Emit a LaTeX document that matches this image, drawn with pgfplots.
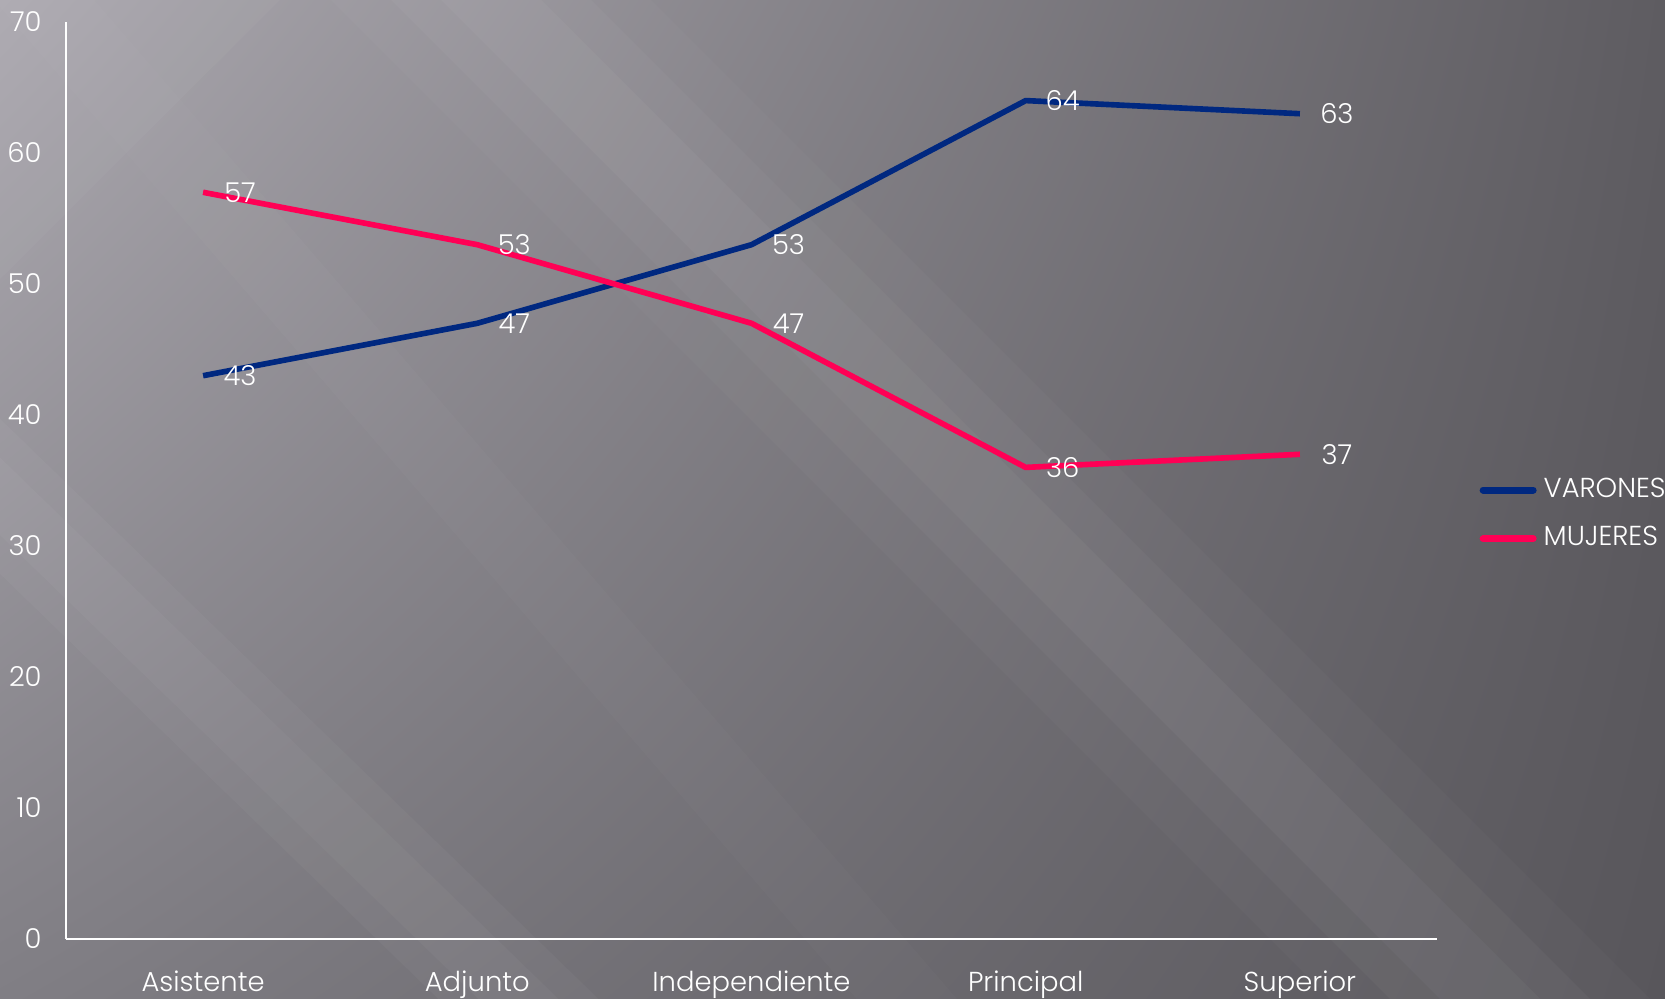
\documentclass[border=0pt]{standalone}
\usepackage{pgfplots}
\pgfplotsset{compat=1.18}
\usetikzlibrary{shadings}
\usepackage{fontspec}
\setmainfont{Poppins}[UprightFont=* Light]
\definecolor{varon}{RGB}{0,40,128}
\definecolor{mujer}{RGB}{255,0,85}
\definecolor{bgul}{RGB}{172,169,176}
\definecolor{bgur}{RGB}{94,92,97}
\definecolor{bgll}{RGB}{128,126,132}
\definecolor{bglr}{RGB}{88,86,91}
\newcommand{\lblfont}{\fontsize{7.8}{9.5}\selectfont}
\newcommand{\band}[6]{%
  \fill[white, opacity=#6] ({#1-#5},#2) -- ({#1+#5},#2) -- ({#3+#5},#4) -- ({#3-#5},#4) -- cycle;}
\begin{document}
\begin{tikzpicture}
\shade[upper left=bgul, upper right=bgur, lower left=bgll, lower right=bglr] (0,0) rectangle (16.65,9.99);
\begin{scope}
\clip (0,0) rectangle (16.65,9.99);
% main diagonal band
\band{4.4}{10.5}{15.4}{-0.5}{0.5}{0.035}
\band{4.4}{10.5}{15.4}{-0.5}{1.0}{0.03}
\band{4.4}{10.5}{15.4}{-0.5}{1.6}{0.025}
% lower-left band
\band{-0.9}{5.9}{5.7}{-0.5}{0.4}{0.03}
\band{-0.9}{5.9}{5.7}{-0.5}{0.8}{0.03}
% secondary band
\band{0.0}{10.5}{9.5}{-0.5}{0.5}{0.02}
% upper-left corner glow
\fill[white, opacity=0.03] (0,9.99) -- (2.8,9.99) -- (0,7.2) -- cycle;
\end{scope}
\path[use as bounding box] (0,0) rectangle (16.65,9.99);
\begin{axis}[
  at={(0.66cm,0.60cm)}, anchor=south west,
  scale only axis, width=13.71cm, height=9.17cm,
  xmin=-0.5, xmax=4.5, ymin=0, ymax=70,
  xtick={0,1,2,3,4},
  xticklabels={Asistente,Adjunto,Independiente,Principal,Superior},
  ytick={0,10,...,70},
  axis lines*=left,
  axis line style={white, line width=0.6pt},
  major tick length=0pt,
  /pgf/number format/assume math mode=true,
  tick label style={white, font=\lblfont},
  yticklabel style={xshift=-0.12cm},
  xticklabel style={yshift=-0.19cm},
  clip=false,
  nodes near coords,
  nodes near coords style={text=white, anchor=center, xshift=0.37cm, font=\lblfont},
  legend style={at={(1.0306,0.463)}, anchor=west, draw=none, fill=none,
    text=white, font=\lblfont, inner sep=0pt, row sep=0.1cm,
    /tikz/every even column/.append style={column sep=0pt}},
  legend cell align=left,
  legend image code/.code={\draw[#1, line width=2pt, line cap=round] (0cm,0cm) -- (0.5cm,0cm);},
]
\addplot[varon, line width=1.6pt] coordinates {(0,43) (1,47) (2,53) (3,64) (4,63)};
\addlegendentry{VARONES}
\addplot[mujer, line width=1.6pt] coordinates {(0,57) (1,53) (2,47) (3,36) (4,37)};
\addlegendentry{MUJERES}
\end{axis}
\end{tikzpicture}
\end{document}
